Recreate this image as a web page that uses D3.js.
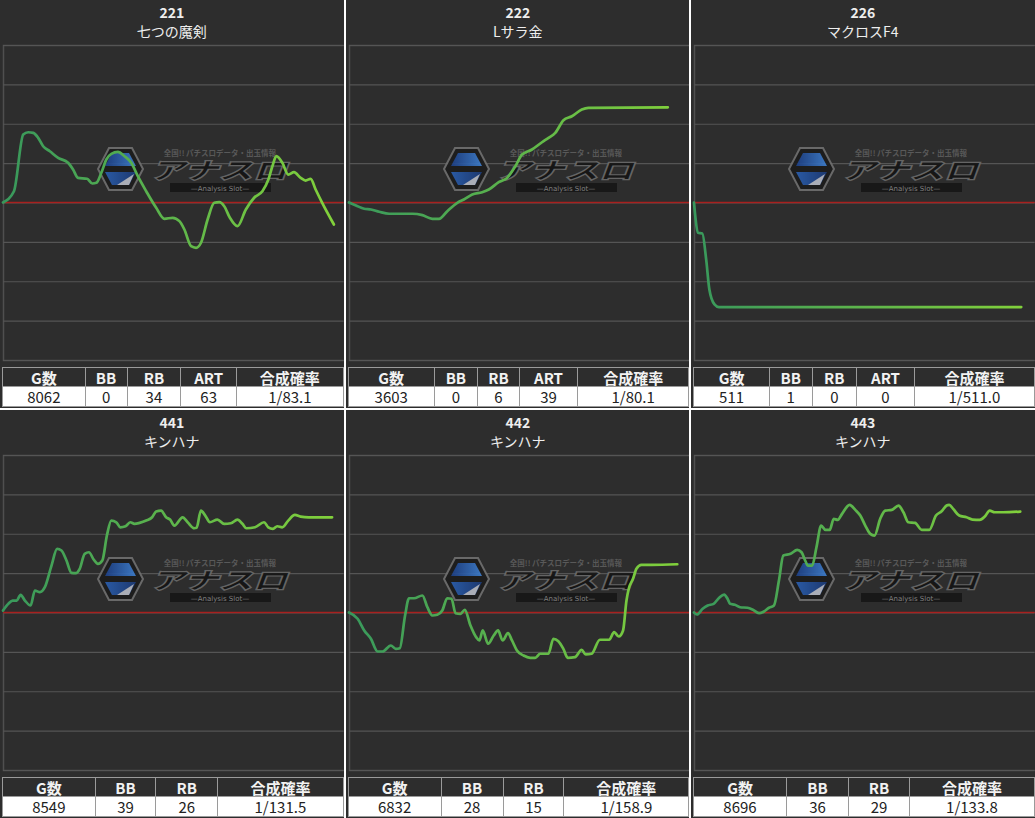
<!DOCTYPE html>
<html>
<head>
<meta charset="utf-8">
<script src="https://cdn.jsdelivr.net/npm/d3@7"></script>
<style>
  html, body { margin: 0; padding: 0; background: #ffffff; }
  #wrap { position: relative; width: 1035px; height: 818px; background: #ffffff; overflow: hidden;
          font-family: "Noto Sans CJK JP", "Noto Sans", sans-serif; }
  .panel { position: absolute; background: #2d2d2d; }
  .panel svg { position: absolute; left: 0; top: 0; }
  table.stats { position: absolute; border-collapse: collapse; table-layout: fixed; }
  table.stats th, table.stats td { border: 1px solid #9a9a9a; padding: 0; text-align: center; white-space: nowrap; overflow: hidden; }
  table.stats th { color: #f2f2f2; font-weight: bold; font-size: 15px; height: 18px; line-height: 17px; background: #2d2d2d; }
  table.stats td { color: #222; background: #ffffff; font-size: 15px; height: 19px; line-height: 18px; }
</style>
</head>
<body>
<div id="wrap"></div>
<script>
// ---------------- data ----------------
const machineNos   = ["221", "222", "226", "441", "442", "443"];
const machineNames = ["七つの魔剣", "Lサラ金", "マクロスF4", "キンハナ", "キンハナ", "キンハナ"];
const gameCounts   = [8062, 3603, 511, 8549, 6832, 8696];
const bbCounts     = [0, 0, 1, 39, 28, 36];
const rbCounts     = [34, 6, 0, 26, 15, 29];
const artCounts    = [63, 39, 0, null, null, null];
const combinedProb = ["1/83.1", "1/80.1", "1/511.0", "1/131.5", "1/158.9", "1/133.8"];
const headersWithArt = ["G数", "BB", "RB", "ART", "合成確率"];
const headersNoArt   = ["G数", "BB", "RB", "合成確率"];
const xAxisMax = [8300, 3850, 532, 8850, 7090, 9080];
const yTicks = [-2000, -1500, -1000, -500, 0, 500, 1000, 1500, 2000];

// cumulative coin difference [games, diff]
const series221 = [[0,0],[267,143],[493,863],[614,892],[736,884],[857,821],[978,714],[1141,651],[1343,567],[1585,504],[1707,419],[1828,313],[2047,301],[2178,241],[2275,250],[2396,377],[2518,546],[2639,618],[2800,643],[2962,588],[3125,504],[3285,334],[3489,143],[3732,-67],[3933,-207],[4135,-194],[4298,-237],[4419,-343],[4582,-555],[4703,-575],[4824,-511],[4985,-216],[5148,-4],[5269,4],[5390,-47],[5528,-194],[5713,-301],[5917,-89],[6119,60],[6320,143],[6466,292],[6563,461],[6660,588],[6806,504],[6951,355],[7090,385],[7253,313],[7374,279],[7495,301],[7617,165],[7777,-4],[8062,-279]];
const series222 = [[0,0],[79,-38],[172,-80],[248,-89],[341,-118],[454,-143],[717,-143],[830,-161],[942,-207],[1017,-207],[1111,-110],[1224,-4],[1298,38],[1393,102],[1505,131],[1580,165],[1692,258],[1787,313],[1880,461],[1956,609],[2068,673],[2181,765],[2255,821],[2331,884],[2424,1044],[2519,1095],[2631,1180],[2706,1202],[3603,1209]];
const series226 = [[0,0],[2,-174],[6,-385],[13,-393],[19,-723],[24,-1104],[32,-1294],[39,-1328],[511,-1328]];
const series441 = [[0,25],[137,110],[251,152],[355,152],[458,225],[569,152],[717,89],[828,279],[958,258],[1087,321],[1260,596],[1405,808],[1519,787],[1649,660],[1778,504],[1889,499],[1993,555],[2122,745],[2233,765],[2355,673],[2466,618],[2580,660],[2699,977],[2813,1167],[2943,1146],[3046,1082],[3183,1095],[3305,1146],[3416,1126],[3546,1138],[3719,1167],[3874,1209],[3978,1282],[4107,1294],[4237,1209],[4340,1180],[4451,1104],[4666,1209],[4796,1146],[4969,1070],[5029,1075],[5142,1294],[5254,1231],[5375,1146],[5572,1180],[5745,1126],[5919,1133],[6090,1180],[6219,1126],[6323,1070],[6548,1082],[6781,1146],[6892,1082],[7013,1062],[7125,1095],[7254,1082],[7410,1167],[7583,1240],[7730,1218],[7945,1209],[8549,1209]];
const series442 = [[0,0],[180,-80],[317,-228],[456,-334],[595,-495],[698,-495],[870,-419],[974,-461],[1057,-453],[1167,-38],[1249,181],[1353,181],[1527,216],[1631,67],[1734,-38],[1838,-29],[1941,25],[2045,181],[2134,174],[2217,-9],[2321,-17],[2410,34],[2528,-165],[2646,-313],[2714,-355],[2783,-228],[2895,-397],[3011,-292],[3102,-228],[3197,-355],[3309,-263],[3392,-355],[3495,-482],[3632,-546],[3771,-575],[3874,-575],[3978,-524],[4150,-524],[4254,-334],[4357,-364],[4461,-461],[4552,-575],[4703,-567],[4842,-473],[4925,-533],[5049,-524],[5221,-346],[5414,-346],[5518,-250],[5615,-305],[5704,-228],[5775,152],[5822,301],[5911,428],[5982,555],[6085,605],[6293,605],[6832,613]];
const series443 = [[0,0],[80,-25],[231,47],[364,89],[523,110],[671,187],[804,228],[894,174],[963,110],[1088,98],[1229,67],[1425,60],[1558,38],[1733,-9],[1866,13],[1998,60],[2131,89],[2264,406],[2381,723],[2574,745],[2752,796],[2866,765],[2972,651],[3034,596],[3150,596],[3264,829],[3389,1104],[3503,1049],[3617,1049],[3724,1189],[3830,1176],[3946,1253],[4148,1367],[4299,1303],[4432,1231],[4565,1104],[4698,999],[4812,977],[4963,1189],[5096,1294],[5273,1303],[5449,1358],[5582,1273],[5714,1146],[5892,1138],[6070,1049],[6271,1049],[6449,1231],[6600,1286],[6733,1358],[6802,1367],[6908,1316],[7068,1231],[7264,1209],[7423,1180],[7617,1176],[7750,1218],[7882,1294],[8015,1273],[8235,1273],[8696,1282]];
const allSeries = [series221, series222, series226, series441, series442, series443];

// ---------------- layout ----------------
const W = 1035, GAP = 2;
const PW = (W - 2 * GAP) / 3;   // panel width
const PH = 408;                 // panel height
const CHART_L = 3, CHART_T = 45, CHART_B = 360;
// relative column weights of each panel's stats table (layout only)
const colWeights = [
  [83, 42, 54, 56, 107],
  [86, 43, 42, 58, 111],
  [76, 43, 45, 58, 121],
  [93, 61, 62, 126],
  [93, 62, 61, 125],
  [93, 63, 61, 126]
];

const wrap = d3.select("#wrap");

machineNos.forEach((no, i) => {
  const col = i % 3, row = Math.floor(i / 3);
  const panel = wrap.append("div").attr("class", "panel")
    .style("left", (col * (PW + GAP)) + "px")
    .style("top", (row * (PH + GAP)) + "px")
    .style("width", PW + "px")
    .style("height", PH + "px");

  const svg = panel.append("svg").attr("width", PW).attr("height", 366);
  const defs = svg.append("defs");

  // title
  svg.append("text").attr("x", PW / 2).attr("y", 18).attr("text-anchor", "middle")
    .attr("fill", "#eeeeee").attr("font-size", 14).attr("font-weight", "bold")
    .attr("font-family", "'Noto Sans CJK JP', sans-serif").text(no);
  svg.append("text").attr("x", PW / 2).attr("y", 37).attr("text-anchor", "middle")
    .attr("fill", "#eeeeee").attr("font-size", 14)
    .attr("font-family", "'Noto Sans CJK JP', sans-serif").text(machineNames[i]);

  const x = d3.scaleLinear().domain([0, xAxisMax[i]]).range([CHART_L, PW]);
  const y = d3.scaleLinear().domain([d3.min(yTicks), d3.max(yTicks)]).range([CHART_B, CHART_T]);

  // grid
  const yAxis = d3.axisLeft(y).tickValues(yTicks).tickSize(-(PW - CHART_L)).tickFormat("");
  const g = svg.append("g").attr("transform", `translate(${CHART_L},0)`).call(yAxis);
  g.select(".domain").attr("stroke", "#4f4f4f").attr("stroke-width", 1.5);
  g.selectAll(".tick line").attr("stroke", "#555555").attr("stroke-width", 1.2);

  // watermark logo
  const lg = svg.append("g").attr("transform", "translate(98,148)").attr("opacity", 0.9);
  const bg1 = defs.append("linearGradient").attr("id", "hexTop" + i).attr("x1", "0").attr("x2", "1");
  bg1.append("stop").attr("offset", "0").attr("stop-color", "#1c3f86");
  bg1.append("stop").attr("offset", "1").attr("stop-color", "#3d7fd0");
  const bg2 = defs.append("linearGradient").attr("id", "hexBot" + i).attr("x1", "0").attr("x2", "1");
  bg2.append("stop").attr("offset", "0").attr("stop-color", "#2a5fb0");
  bg2.append("stop").attr("offset", "1").attr("stop-color", "#1b3a78");
  lg.append("polygon").attr("points", "0,21 11,0 34,0 45,21 34,42 11,42")
    .attr("fill", "#1c1c1c").attr("stroke", "#707070").attr("stroke-width", 2);
  lg.append("polygon").attr("points", "7,18 14,5 31,5 38,18").attr("fill", `url(#hexTop${i})`);
  lg.append("polygon").attr("points", "7,24 38,24 31,37 14,37").attr("fill", `url(#hexBot${i})`);
  lg.append("polygon").attr("points", "19,37 36,26 31,37").attr("fill", "#b8bcc6");
  lg.append("text").attr("x", 122).attr("y", 8).attr("text-anchor", "middle")
    .attr("font-size", 7.5).attr("font-weight", "bold").attr("fill", "#5e5e5e")
    .attr("font-family", "'Noto Sans CJK JP', sans-serif").text("全国!! パチスロデータ・出玉情報");
  lg.append("text").attr("x", 52).attr("y", 31).attr("textLength", 137).attr("lengthAdjust", "spacingAndGlyphs")
    .attr("font-size", 23).attr("font-weight", 900).attr("font-style", "italic")
    .attr("fill", "#141414").attr("stroke", "#6a6a6a").attr("stroke-width", 1.2)
    .attr("font-family", "'Noto Sans CJK JP', sans-serif").text("アナスロ");
  lg.append("rect").attr("x", 72).attr("y", 35).attr("width", 101).attr("height", 9).attr("fill", "#161616");
  lg.append("text").attr("x", 122).attr("y", 42.5).attr("text-anchor", "middle")
    .attr("font-size", 7).attr("fill", "#8a8a8a")
    .attr("font-family", "'DejaVu Sans', sans-serif").text("—Analysis Slot—");

  // zero line
  svg.append("line").attr("x1", CHART_L).attr("x2", PW).attr("y1", y(0)).attr("y2", y(0))
    .attr("stroke", "#a8201f").attr("stroke-width", 1.6);

  // data line with gradient
  const lgr = defs.append("linearGradient").attr("id", "lineGrad" + i)
    .attr("gradientUnits", "userSpaceOnUse").attr("x1", CHART_L).attr("x2", PW).attr("y1", 0).attr("y2", 0);
  lgr.append("stop").attr("offset", "0").attr("stop-color", "#38985c");
  lgr.append("stop").attr("offset", "1").attr("stop-color", "#84d33a");
  const line = d3.line().x(d => x(d[0])).y(d => y(d[1])).curve(d3.curveMonotoneX);
  svg.append("path").datum(allSeries[i]).attr("d", line).attr("fill", "none")
    .attr("stroke", `url(#lineGrad${i})`).attr("stroke-width", 2.7)
    .attr("stroke-linejoin", "round").attr("stroke-linecap", "round");

  // table
  const hasArt = artCounts[i] !== null;
  const headers = hasArt ? headersWithArt : headersNoArt;
  const values = hasArt
    ? [gameCounts[i], bbCounts[i], rbCounts[i], artCounts[i], combinedProb[i]]
    : [gameCounts[i], bbCounts[i], rbCounts[i], combinedProb[i]];
  const wsum = d3.sum(colWeights[i]);
  const table = panel.append("table").attr("class", "stats")
    .style("left", "2px").style("top", "367px").style("width", (PW - 2) + "px");
  table.append("colgroup").selectAll("col").data(colWeights[i]).join("col")
    .style("width", d => (100 * d / wsum) + "%");
  table.append("tr").selectAll("th").data(headers).join("th").text(d => d);
  table.append("tr").selectAll("td").data(values).join("td").text(d => d);
});
</script>
</body>
</html>
